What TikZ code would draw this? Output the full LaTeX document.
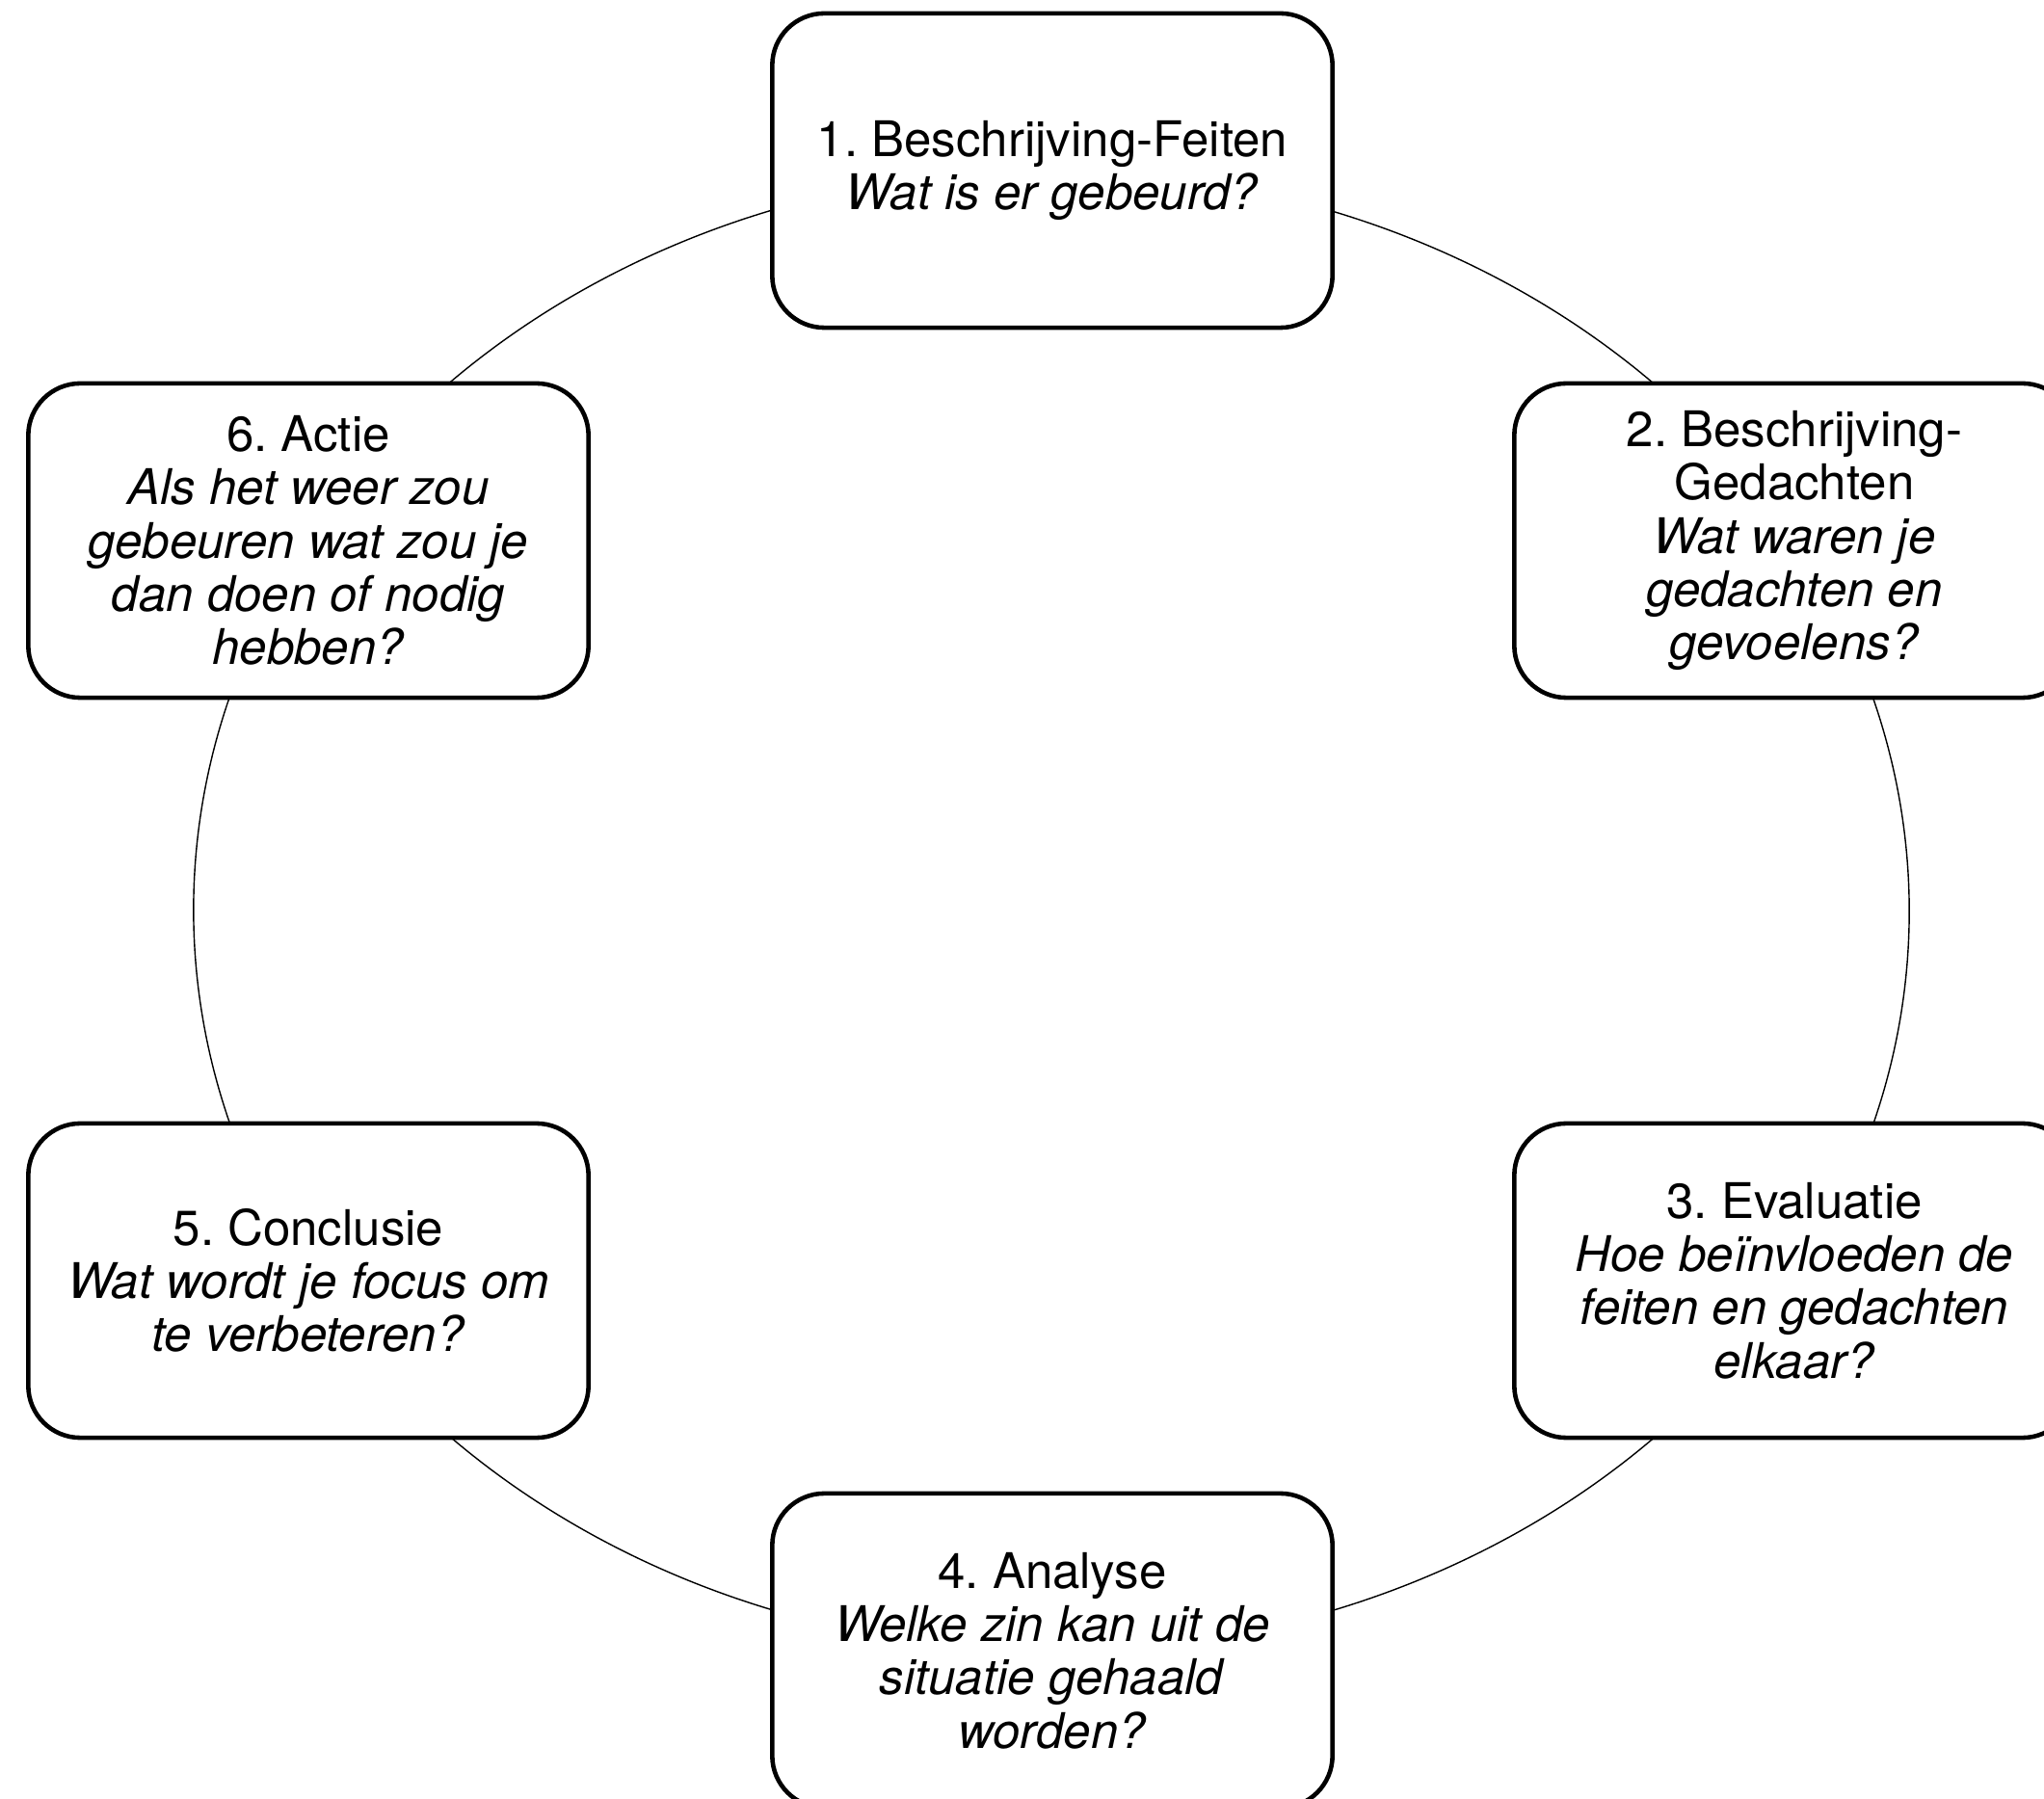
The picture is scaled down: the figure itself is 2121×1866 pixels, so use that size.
\documentclass[tikz,border=0pt]{standalone}
\usepackage{fontspec}
\setmainfont{TeX Gyre Heros}
\usetikzlibrary{backgrounds}
\frenchspacing
\begin{document}
\begin{tikzpicture}[x=0.01cm,y=0.01cm,
  stepbox/.style={draw=black, line width=1.3pt, fill=white, rounded corners=0.54cm,
    minimum width=5.81cm, minimum height=3.26cm, inner sep=0pt, align=center,
    font=\fontsize{14.5}{15.7}\selectfont\frenchspacing},
  ring/.style={draw=black, line width=0.4pt}]
\useasboundingbox (0,0) rectangle (2121,1866);
\clip (0,0) rectangle (2121,1866);
\node[stepbox] (b1) at (1092,1689) {1. Beschrijving-Feiten\\\textit{Wat is er gebeurd?}};
\node[stepbox] (b2) at (1862,1305) {2. Beschrijving-\\Gedachten\\\textit{Wat waren je}\\\textit{gedachten en}\\\textit{gevoelens?}};
\node[stepbox] (b3) at (1862,537) {3. Evaluatie\\\textit{Hoe beïnvloeden de}\\\textit{feiten en gedachten}\\\textit{elkaar?}};
\node[stepbox] (b4) at (1092,153) {4. Analyse\\\textit{Welke zin kan uit de}\\\textit{situatie gehaald}\\\textit{worden?}};
\node[stepbox] (b5) at (320,537) {5. Conclusie\\\textit{Wat wordt je focus om}\\\textit{te verbeteren?}};
\node[stepbox] (b6) at (320,1305) {6. Actie\\\textit{Als het weer zou}\\\textit{gebeuren wat zou je}\\\textit{dan doen of nodig}\\\textit{hebben?}};
\begin{scope}[on background layer]
\draw[ring] (b1.center) arc[start angle=90, end angle=30, x radius=8.89cm, y radius=7.69cm];
\draw[ring] (b2.center) arc[start angle=30, end angle=-30, x radius=8.89cm, y radius=7.69cm];
\draw[ring] (b3.center) arc[start angle=-30, end angle=-90, x radius=8.89cm, y radius=7.69cm];
\draw[ring] (b4.center) arc[start angle=-90, end angle=-150, x radius=8.89cm, y radius=7.69cm];
\draw[ring] (b5.center) arc[start angle=210, end angle=150, x radius=8.89cm, y radius=7.69cm];
\draw[ring] (b6.center) arc[start angle=150, end angle=90, x radius=8.89cm, y radius=7.69cm];
\end{scope}
\end{tikzpicture}
\end{document}
